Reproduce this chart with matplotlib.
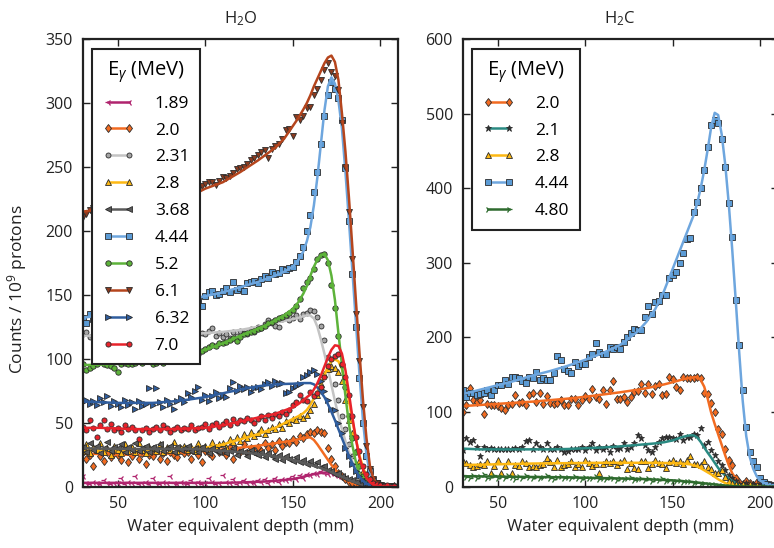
import numpy as np
import matplotlib
matplotlib.use('Agg')
import matplotlib.pyplot as plt
from matplotlib.lines import Line2D

plt.rcParams['font.family'] = ['Open Sans', 'DejaVu Sans']
plt.rcParams['mathtext.fontset'] = 'custom'
plt.rcParams['mathtext.rm'] = 'Open Sans'
plt.rcParams['mathtext.it'] = 'Open Sans:italic'
plt.rcParams['mathtext.bf'] = 'Open Sans:bold'

# depth of the measured points (mm)
depth_pts = np.arange(30, 209, 2)
# depth nodes of the fitted curves (mm)
depth_fit = [30, 40, 50, 60, 70, 80, 90, 100, 110, 120, 130, 135, 140, 145, 150, 153, 156, 158,
             160, 162, 164, 166, 168, 170, 172, 174, 176, 178, 180, 182, 184, 186, 188, 190,
             192, 194, 196, 198, 200, 205, 210]

# ---------------- H2O ----------------
h2o_189_pts = [8, 3, 2, 4, 3, 2, 5, 3, 2, 3,
               3, 7, 2, 4, 3, 8, 2, 3, 4, 2,
               7, 3, 2, 4, 3, 8, 3, 2, 4, 3,
               2, 5, 3, 4, 2, 3, 7, 4, 2, 3,
               9, 4, 3, 6, 2, 4, 5, 3, 4, 3,
               5, 4, 6, 3, 5, 7, 4, 6, 5, 7,
               8, 6, 9, 7, 10, 9, 11, 10, 12, 11,
               10, 11, 9, 8, 7, 6, 4, 3, 2, 1.5,
               1, 0.5, 1, 0, 0.5, 0, 0.3, 0, 0.5, 0]
h2o_189_fit = [3, 3, 3, 3, 3, 3, 3, 3, 3, 3.3, 3.8, 4.1, 4.6, 5.2, 6, 6.8, 7.8, 8.5,
               9.1, 9.8, 10.3, 10.7, 11, 11, 10.8, 10.2, 9.2, 8, 6.6, 5.2, 3.9, 2.8, 1.9, 1.2,
               0.7, 0.4, 0.2, 0.1, 0, 0, 0]

h2o_20_pts = [27, 22, 25, 16, 29, 24, 20, 27, 23, 26,
              25, 21, 28, 19, 24, 27, 22, 26, 18, 25,
              24, 28, 22, 26, 20, 27, 25, 23, 29, 26,
              27, 22, 29, 25, 19, 28, 26, 24, 30, 27,
              28, 25, 31, 22, 29, 27, 33, 26, 30, 28,
              31, 28, 34, 30, 33, 29, 36, 32, 35, 34,
              37, 35, 40, 38, 41, 43, 42, 44, 43, 42,
              30, 22, 16, 11, 8, 6, 4, 3, 2, 1.5,
              1, 0.5, 1, 0, 0.5, 0, 0.3, 0, 0, 0.5]
h2o_20_fit = [26, 25.5, 25, 25, 25.5, 26, 27, 28, 29, 30.5, 32, 33, 34, 35, 36, 37, 38, 38.5,
              38.5, 36.5, 33, 29, 25, 21, 17, 13.5, 10.5, 8, 6, 4.3, 3, 2, 1.2, 0.7,
              0.4, 0.2, 0.1, 0, 0, 0, 0]

h2o_231_pts = [119, 121, 117, 118, 120, 116, 119, 121, 118, 117,
               118, 120, 117, 119, 121, 118, 116, 120, 119, 117,
               120, 118, 117, 119, 121, 118, 120, 117, 119, 118,
               121, 119, 117, 119, 120, 119, 122, 124, 118, 120,
               117, 119, 116, 121, 118, 122, 120, 119, 123, 121,
               125, 124, 127, 130, 128, 126, 125, 131, 133, 130,
               132, 134, 131, 135, 136, 138, 137, 133, 126, 115,
               101, 92, 80, 68, 55, 45, 33, 24, 16, 10,
               6, 4, 2, 1, 1, 0, 0.5, 0, 0, 0.3]
h2o_231_fit = [118, 118, 118, 118, 118.5, 119, 119.5, 120, 121, 122.5, 125, 126.5, 128, 129.5,
               131, 132, 133.3, 134, 133.8, 131.5, 125, 115, 104, 92, 79.5, 67, 55.5, 45,
               35.5, 27, 19.5, 13, 8, 4.5, 2.3, 1, 0.4, 0.1, 0, 0, 0]

h2o_28_pts = [28, 33, 26, 31, 29, 34, 27, 30, 25, 32,
              29, 26, 33, 28, 31, 27, 34, 29, 26, 31,
              30, 28, 33, 27, 31, 29, 35, 28, 30, 32,
              29, 31, 28, 34, 30, 32, 29, 35, 31, 33,
              34, 31, 37, 35, 39, 36, 41, 38, 43, 40,
              42, 45, 41, 44, 47, 45, 49, 46, 51, 50,
              53, 52, 55, 54, 56, 60, 65, 72, 80, 88,
              92, 94, 93, 90, 83, 68, 52, 42, 28, 20,
              12, 7, 4, 2, 1, 1, 0.5, 0, 0.5, 0]
h2o_28_fit = [28.5, 28.5, 28.5, 28.8, 29, 29.5, 30, 30.5, 33, 37, 41, 43.5, 46, 49.5, 53, 55,
              57.5, 60, 64, 69, 74, 80.5, 87, 94, 98, 99.5, 98, 92, 82, 67, 51.5, 37, 24.5,
              15, 8.5, 4.5, 2, 0.8, 0.3, 0, 0]

h2o_368_pts = [31, 27, 34, 29, 32, 26, 30, 35, 28, 31,
               30, 33, 27, 31, 29, 34, 28, 30, 32, 27,
               31, 29, 33, 28, 30, 32, 27, 31, 29, 30,
               32, 28, 30, 27, 31, 29, 26, 30, 28, 27,
               29, 26, 28, 30, 25, 28, 27, 24, 29, 26,
               25, 27, 23, 26, 24, 22, 25, 21, 24, 22,
               20, 23, 19, 21, 18, 20, 17, 19, 15, 16,
               13, 12, 10, 11, 8, 7, 6, 5, 4, 3,
               2, 1.5, 1, 0.5, 1, 0, 0.5, 0, 0, 0.3]
h2o_368_fit = [30, 29.8, 29.5, 29.5, 29.5, 29.5, 29.5, 29, 28, 27, 25.5, 24.5, 23.5, 22.3, 21,
               20, 18.7, 17.8, 17, 16.2, 15.4, 14.5, 13.5, 12.5, 11.3, 10.1, 8.9, 7.7, 6.5,
               5.3, 4.1, 3.1, 2.3, 1.5, 1, 0.7, 0.4, 0.2, 0, 0, 0]

h2o_444_pts = [132, 128, 135, 131, 136, 133, 137, 135, 138, 134,
               137, 139, 136, 140, 138, 141, 139, 142, 140, 143,
               141, 144, 142, 145, 143, 146, 144, 147, 145, 146,
               146, 145, 147, 146, 141, 149, 152, 153, 150, 151,
               153, 155, 152, 160, 154, 155, 153, 159, 160, 161,
               159, 162, 165, 163, 168, 166, 167, 170, 169, 171,
               172, 176, 180, 187, 200, 212, 230, 246, 268, 290,
               306, 316, 311, 304, 287, 249, 208, 166, 125, 85,
               50, 24, 12, 5, 3, 1, 0.5, 0, 0.3, 0]
h2o_444_fit = [132, 134, 136, 139, 141, 143, 146, 149, 152, 156, 160, 162.5, 165, 168, 172,
               177, 184, 192, 203, 220, 242, 268, 294, 313, 320, 315, 302, 280, 246, 208,
               168, 128, 88, 52, 25, 10, 4, 1.5, 0.5, 0, 0]

h2o_52_pts = [96, 91, 93, 94, 96, 98, 96, 95, 94, 93,
              90, 96, 97, 96, 96, 97, 98, 97, 99, 99,
              96, 97, 98, 97, 99, 98, 100, 99, 101, 100,
              102, 104, 105, 104, 106, 108, 109, 111, 110, 112,
              112, 113, 115, 116, 114, 117, 119, 120, 121, 122,
              123, 124, 126, 128, 129, 130, 132, 133, 134, 136,
              138, 141, 147, 155, 160, 163, 170, 178, 181, 182,
              175, 158, 140, 118, 95, 78, 55, 38, 27, 16,
              8, 5, 3, 2, 1, 1, 0.5, 0, 0.5, 0]
h2o_52_fit = [95, 95.5, 96, 97, 98.5, 100.5, 103, 107, 112, 118, 123.5, 126.5, 130, 134, 139,
              144, 151, 157, 165, 172, 177.5, 181, 182, 177, 165, 146, 120, 95, 71, 49, 32,
              19, 10, 5, 2.5, 1.2, 0.5, 0.2, 0, 0, 0]

h2o_61_pts = [211, 213, 216, 218, 214, 219, 217, 220, 216, 221,
              219, 222, 218, 220, 223, 221, 219, 224, 222, 220,
              224, 221, 225, 223, 222, 226, 224, 223, 227, 225,
              226, 224, 227, 232, 235, 237, 238, 238, 236, 239,
              242, 241, 243, 245, 248, 249, 250, 252, 255, 257,
              259, 262, 263, 257, 264, 266, 268, 272, 279, 280,
              274, 289, 287, 290, 296, 297, 306, 311, 318, 326,
              331, 324, 321, 310, 284, 250, 215, 178, 135, 98,
              62, 32, 14, 6, 3, 1, 0.5, 0, 0.3, 0]
h2o_61_fit = [215, 217, 219, 221, 222, 224, 226, 233, 238, 246, 255, 260, 265, 272, 282, 288,
              295, 300, 306, 313, 319, 325, 331, 335.5, 337, 332, 318, 292, 262, 226, 186,
              145, 105, 68, 38, 16, 6, 2, 0.5, 0, 0]

h2o_632_pts = [66, 68, 65, 67, 64, 69, 66, 71, 63, 67,
               65, 62, 68, 64, 66, 61, 67, 63, 65, 77,
               64, 77, 66, 62, 68, 65, 61, 67, 69, 66,
               73, 70, 75, 78, 68, 72, 67, 71, 74, 69,
               72, 70, 77, 82, 75, 79, 76, 78, 74, 77,
               78, 76, 80, 82, 79, 83, 80, 81, 73, 74,
               77, 79, 80, 86, 87, 90, 91, 88, 83, 75,
               68, 61, 60, 50, 42, 30, 24, 18, 12, 8,
               5, 3, 2, 1, 1, 0.5, 0, 0.5, 0, 0]
h2o_632_fit = [66.5, 66, 65.5, 65.5, 65.5, 66.5, 68, 70, 73, 76, 78.5, 79.3, 80, 80.3, 80.5,
               80.8, 81, 81, 81, 80, 77.5, 74, 70, 64.5, 58.5, 52, 45, 38, 31, 24, 18, 12.5,
               8, 4.5, 2.5, 1.2, 0.5, 0.2, 0, 0, 0]

h2o_70_pts = [47, 44, 52, 46, 39, 48, 52, 45, 49, 44,
              46, 43, 48, 45, 47, 44, 37, 44, 46, 43,
              45, 47, 44, 48, 46, 43, 45, 47, 44, 46,
              45, 48, 44, 46, 47, 49, 45, 48, 50, 47,
              49, 51, 48, 53, 50, 52, 51, 54, 52, 50,
              53, 55, 52, 56, 54, 57, 55, 58, 57, 60,
              64, 66, 72, 68, 67, 74, 71, 73, 78, 86,
              94, 100, 102, 104, 96, 86, 72, 55, 39, 28,
              16, 10, 6, 3, 2, 1, 0.5, 1, 0, 0.5]
h2o_70_fit = [46, 46, 45.5, 45, 45, 45, 45.5, 46, 48, 51, 54, 55.5, 57, 59.5, 62, 64.5, 67.5,
              70, 72, 76, 81, 87, 94, 101, 107, 110.5, 110, 104, 91, 73, 54, 37, 23, 13.5, 7,
              3.5, 1.5, 0.6, 0.2, 0, 0]

# ---------------- H2C ----------------
h2c_20_pts = [100, 109, 132, 116, 114, 116, 98, 111, 110, 110,
              108, 105, 103, 109, 111, 123, 112, 114, 109, 123,
              125, 114, 126, 111, 122, 112, 111, 112, 116, 109,
              109, 118, 117, 109, 116, 121, 118, 131, 120, 118,
              129, 111, 130, 141, 118, 118, 120, 113, 120, 127,
              128, 138, 125, 138, 124, 135, 137, 123, 124, 147,
              144, 134, 130, 147, 146, 145, 146, 147, 146, 125,
              124, 112, 100, 77, 71, 50, 36, 29, 11, 6,
              3, 8, 5, 2, 6, 3, 1, 4, 2, 1]
h2c_20_fit = [108, 109.5, 111, 112.5, 114, 116, 118, 120.5, 123.5, 126.5, 130, 132, 134.5, 137,
              140, 142, 144, 145, 146, 146.5, 147, 143, 134, 118, 99, 84, 70, 56, 42, 29, 18,
              11, 6, 2.5, 1, 0.5, 0.2, 0, 0, 0, 0]

h2c_21_pts = [49, 65, 60, 63, 53, 41, 53, 51, 52, 51,
              50, 51, 50, 51, 50, 52, 51, 53, 61, 62,
              50, 59, 53, 51, 58, 50, 51, 53, 50, 47,
              48, 51, 50, 50, 53, 49, 53, 59, 49, 53,
              51, 53, 47, 54, 50, 52, 58, 50, 53, 59,
              69, 65, 56, 49, 47, 53, 60, 65, 67, 66,
              65, 64, 71, 62, 67, 66, 71, 69, 78, 56,
              60, 49, 42, 35, 29, 22, 15, 11, 7, 4,
              3, 5, 2, 4, 1, 3, 1, 0.5, 2, 0]
h2c_21_fit = [51, 50, 50, 50, 50, 50, 50.5, 51.5, 52.5, 54, 56, 57, 58, 59.5, 62, 64.5, 66.8,
              68, 68.8, 68.8, 66, 60, 52.5, 45.5, 39, 32, 25, 19.5, 15, 11, 7.5, 5, 2.5, 1.2,
              0.5, 0.2, 0, 0, 0, 0, 0]

h2c_28_pts = [35, 32, 29, 27, 28, 31, 29, 35, 19, 28,
              36, 18, 28, 34, 18, 29, 28, 35, 32, 27,
              28, 27, 29, 30, 38, 33, 27, 36, 27, 29,
              30, 35, 27, 31, 26, 36, 32, 28, 30, 18,
              31, 35, 32, 34, 29, 33, 36, 24, 32, 25,
              24, 35, 35, 25, 31, 36, 32, 30, 25, 33,
              36, 32, 35, 30, 36, 41, 30, 31, 29, 35,
              27, 24, 19, 18, 22, 13, 8, 5, 3, 2,
              4, 1, 3, 0.5, 2, 0, 1, 0.5, 0, 1]
h2c_28_fit = [29, 29.5, 30, 30.5, 31, 31.3, 31.5, 31.8, 32, 32, 32, 32, 32, 31.8, 31.5, 31.2,
              30.8, 30.4, 30, 28.6, 27, 24.7, 22, 19.2, 16.5, 13.2, 10, 7.3, 5, 3, 1.5, 0.7,
              0.2, 0, 0, 0, 0, 0, 0, 0, 0]

h2c_444_pts = [129, 120, 125, 125, 123, 124, 125, 129, 123, 130,
               136, 136, 143, 138, 147, 147, 145, 141, 139, 147,
               145, 154, 143, 146, 143, 143, 152, 175, 170, 158,
               155, 152, 167, 162, 164, 164, 174, 178, 192, 181,
               178, 178, 187, 185, 187, 185, 194, 201, 206, 211,
               210, 210, 228, 242, 232, 248, 249, 257, 257, 279,
               284, 288, 300, 313, 332, 333, 368, 382, 400, 424,
               455, 485, 491, 488, 466, 428, 380, 335, 250, 190,
               130, 80, 47, 35, 27, 12, 6, 3, 2, 1]
h2c_444_fit = [124, 130, 136, 142, 149, 155, 162, 170, 179, 190, 208, 221, 238, 262, 292, 310,
               328, 340, 352, 364, 380, 400, 424, 452, 482, 501, 498, 472, 432, 380, 318, 250,
               180, 115, 68, 40, 24, 14, 8, 2, 0]

h2c_480_pts = [16, 13, 11, 15, 12, 14, 17, 12, 13, 15,
               11, 14, 12, 16, 13, 10, 14, 12, 15, 13,
               12, 14, 11, 13, 15, 12, 10, 13, 14, 11,
               13, 11, 14, 12, 10, 13, 11, 12, 14, 10,
               12, 10, 13, 11, 9, 12, 10, 11, 13, 9,
               10, 12, 9, 11, 8, 10, 9, 11, 8, 9,
               8, 7, 9, 6, 8, 7, 5, 6, 4, 5,
               4, 3, 3, 2, 2, 1, 1, 0.5, 1, 0.5,
               0, 0.5, 0, 0.3, 0, 0, 0.5, 0, 0, 0]
h2c_480_fit = [14, 13.8, 13.5, 13.2, 13, 12.8, 12.5, 12, 11.5, 11, 10.5, 10, 9.5, 9, 8.5, 8,
               7.3, 6.9, 6.5, 6, 5.5, 5, 4.5, 4, 3.5, 3, 2.5, 2, 1.5, 1.1, 0.8, 0.6, 0.4, 0.3,
               0.2, 0.1, 0, 0, 0, 0, 0]

# label, points, fit, line colour, marker, marker face, marker size
h2o_series = [
    ('1.89', h2o_189_pts, h2o_189_fit, '#b0246e', '3', '#b0246e', 4.5),
    ('2.0', h2o_20_pts, h2o_20_fit, '#f26b21', 'd', '#f26b21', 4.5),
    ('2.31', h2o_231_pts, h2o_231_fit, '#c4c4c4', 'o', '#a5a5a5', 3.6),
    ('2.8', h2o_28_pts, h2o_28_fit, '#fdb813', '^', '#fdb813', 4.2),
    ('3.68', h2o_368_pts, h2o_368_fit, '#5a5a5a', '<', '#5a5a5a', 4.2),
    ('4.44', h2o_444_pts, h2o_444_fit, '#6ea6de', 's', '#5b9bd5', 3.7),
    ('5.2', h2o_52_pts, h2o_52_fit, '#5db33a', 'o', '#5db33a', 3.9),
    ('6.1', h2o_61_pts, h2o_61_fit, '#b5451d', 'v', '#8b3b1f', 4.3),
    ('6.32', h2o_632_pts, h2o_632_fit, '#2f5d9e', '>', '#2f5d9e', 4.3),
    ('7.0', h2o_70_pts, h2o_70_fit, '#e8232b', 'o', '#e8232b', 3.7),
]
h2c_series = [
    ('2.0', h2c_20_pts, h2c_20_fit, '#f26b21', 'd', '#f26b21', 4.5),
    ('2.1', h2c_21_pts, h2c_21_fit, '#2a8a82', '*', '#333333', 5),
    ('2.8', h2c_28_pts, h2c_28_fit, '#fdb813', '^', '#fdb813', 4.2),
    ('4.44', h2c_444_pts, h2c_444_fit, '#6ea6de', 's', '#5b9bd5', 3.7),
    ('4.80', h2c_480_pts, h2c_480_fit, '#2e6b2e', '4', '#2e6b2e', 4.5),
]

fig = plt.figure(figsize=(7.74, 5.48), dpi=100)
ax_w = fig.add_axes([0.1068, 0.1119, 0.4074, 0.8170])
ax_c = fig.add_axes([0.5978, 0.1119, 0.4070, 0.8170])


def draw_panel(ax, series, title, ymax, ystep):
    handles = []
    for lab, pts, fit, col, mk, mfc, ms in series:
        line_marker = mk in ('3', '4')
        mec = col if line_marker else '#2b2b2b'
        mew = 0.9 if line_marker else 0.6
        ax.plot(depth_pts, pts, linestyle='none', marker=mk, ms=ms, mfc=mfc, mec=mec, mew=mew)
        ax.plot(depth_fit, fit, color=col, lw=1.8)
        handles.append(Line2D([], [], color=col, lw=1.8, marker=mk, ms=ms, mfc=mfc, mec=mec,
                              mew=mew))
    ax.set_xlim(30, 210)
    ax.set_ylim(0, ymax)
    ax.set_xticks([50, 100, 150, 200])
    ax.set_yticks(np.arange(0, ymax + 1, ystep))
    ax.tick_params(direction='in', top=True, right=True, length=5, width=1, labelsize=11.5,
                   pad=7, colors='#222222')
    for sp in ax.spines.values():
        sp.set_linewidth(1.6)
        sp.set_color('#222222')
    ax.set_xlabel('Water equivalent depth (mm)', fontsize=12, color='#222222', labelpad=5)
    ax.set_title(title, fontsize=12, color='#222222', pad=11)
    leg = ax.legend(handles, [s[0] for s in series], title=r'E$_{\mathit{\gamma}}$ (MeV)',
                    loc='upper left', numpoints=2, fancybox=False, framealpha=1,
                    edgecolor='#222222', borderaxespad=0.55, handlelength=1.8,
                    handletextpad=1.2, borderpad=0.6, labelspacing=0.62,
                    fontsize=12.5, title_fontsize=14.5)
    leg.get_frame().set_linewidth(1.5)
    return leg


draw_panel(ax_w, h2o_series, r'H$_2$O', 350, 50)
draw_panel(ax_c, h2c_series, r'H$_2$C', 600, 100)

ax_w.set_ylabel(r'Counts / 10$^9$ protons', fontsize=12.5, color='#222222')
ax_w.yaxis.set_label_coords(-0.17, 0.44)

fig.savefig('out.png', dpi=100)
